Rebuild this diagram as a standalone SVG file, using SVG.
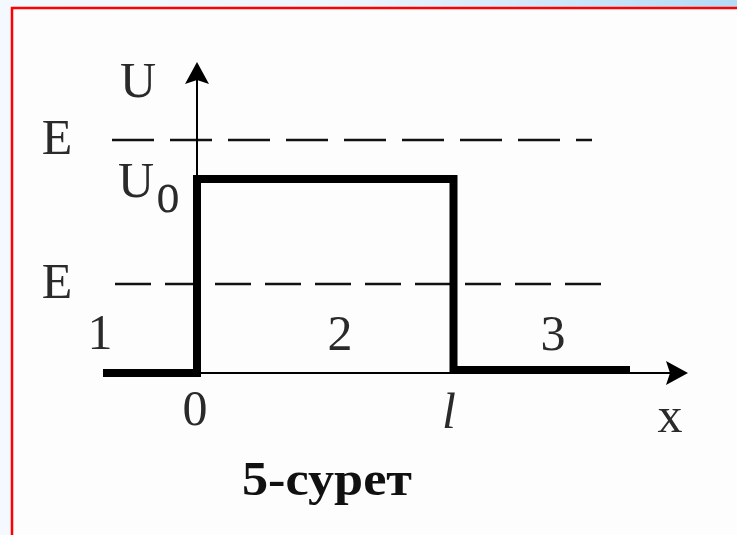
<svg xmlns="http://www.w3.org/2000/svg" width="737" height="535" viewBox="0 0 737 535">
<defs>
<linearGradient id="bg" x1="0" y1="0" x2="1" y2="0">
<stop offset="0" stop-color="#f3f9fe"/>
<stop offset="0.45" stop-color="#eef6fd"/>
<stop offset="1" stop-color="#b4daf6"/>
</linearGradient>
<style>
.lbl{font-family:"Liberation Serif","DejaVu Serif",serif;font-size:50px;fill:#2a2a2a;text-anchor:middle}
.thin{stroke:#000;stroke-width:2;fill:none}
.thick{stroke:#000;stroke-width:8;fill:none;stroke-linejoin:miter}
.dash{stroke:#111;stroke-width:2.5;fill:none}
</style>
</defs>
<rect x="0" y="0" width="737" height="535" fill="#f3f9fe"/>
<rect x="0" y="0" width="737" height="8" fill="url(#bg)"/>
<rect x="12" y="8" width="740" height="540" fill="#fdfdfd" stroke="#ff0000" stroke-width="2.5"/>
<g id="dashes">
<line class="dash" x1="112" y1="140" x2="592" y2="140" stroke-dasharray="42 16"/>
<line class="dash" x1="115" y1="284" x2="602" y2="284" stroke-dasharray="36 14"/>
</g>
<g id="connectors">
<line class="thin" x1="197" y1="80" x2="197" y2="373"/>
<polygon points="197,62 209,84 197,80 185,84" fill="#000"/>
<line class="thin" x1="103" y1="373" x2="670" y2="373"/>
<polygon points="688,373 666,385 670,373 666,361" fill="#000"/>
</g>
<g id="barrier">
<path class="thick" d="M103,373 H197 V179 H453.5 V370 H630"/>
</g>
<g id="labels">
<text class="lbl" x="138" y="97">U</text>
<text class="lbl" x="57" y="154">E</text>
<text class="lbl" x="136" y="197">U</text>
<text class="lbl" transform="translate(168,212) scale(1,1.3)" style="font-size:46px">o</text>
<text class="lbl" x="57" y="298">E</text>
<text class="lbl" x="100" y="349">1</text>
<text class="lbl" x="340" y="350">2</text>
<text class="lbl" x="553" y="350">3</text>
<text class="lbl" x="195" y="425">0</text>
<text class="lbl" x="449" y="428" style="font-style:italic">l</text>
<text class="lbl" x="670" y="432">x</text>
<text x="242" y="495" textLength="170" lengthAdjust="spacingAndGlyphs" style="font-family:'Liberation Serif',serif;font-weight:bold;font-size:48px;fill:#111">5-сурет</text>
</g>
</svg>
